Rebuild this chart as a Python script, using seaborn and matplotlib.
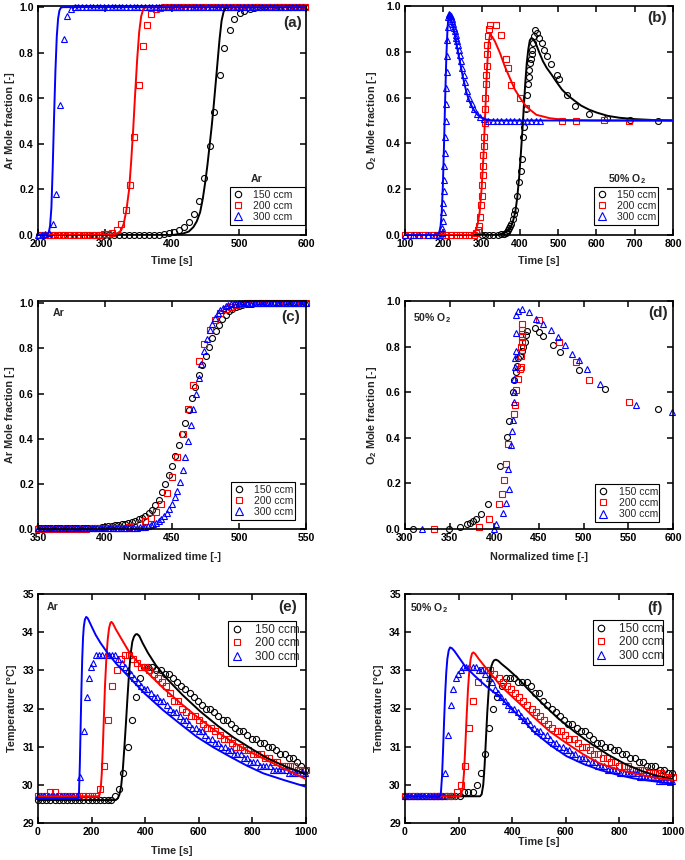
import matplotlib
matplotlib.use("Agg")
import matplotlib.pyplot as plt
import seaborn as sns
from matplotlib.lines import Line2D

# ---------------- (a) Ar breakthrough ----------------
a150_t = [201,208,216,223,231,238,246,253,261,268,276,283,291,298,306,313,321,328,336,343,351,358,366,373,381,
          388,396,403,411,418,426,433,441,448,456,463,471,478,486,493,501,508,516,523,
          531,538,546,553,561,568,576,583,591,598]
a150_v = [0,0,0,0,0,0,0,0,0,0,0,0,0,0,0,0,0,0,0,0,0,0,0,0,0,
          0.003,0.007,0.012,0.02,0.035,0.055,0.09,0.15,0.25,0.39,0.54,0.70,0.82,0.90,0.95,0.975,0.985,0.99,0.995,
          1,1,1,1,1,1,1,1,1,1]
a200_t = [203,209,216,222,229,235,241,248,254,260,267,273,280,286,292,
          299,305,311,318,324,331,338,344,350,356,363,369,376,382,
          388,395,401,407,414,420,427,433,439,446,452,459,465,471,478,484,491,497,503,510,516,523,529,535,542,548,555,561,567,574,580,587,593,599]
a200_v = [0,0,0,0,0,0,0,0,0,0,0,0,0,0,0,
          0.003,0.005,0.01,0.02,0.05,0.11,0.22,0.43,0.66,0.83,0.92,0.97,0.99,0.995,
          1,1,1,1,1,1,1,1,1,1,1,1,1,1,1,1,1,1,1,1,1,1,1,1,1,1,1,1,1,1,1,1,1,1]
a300_t = [200,205.5,211,216.5,222,227.5,233,238.5,244,249.5,
          255,260,266,271,277,282,288,293,299,304,310,315,321,326,332,337,343,348,354,359,
          365,370,376,381,387,392,398,403,409,414,420,425,431,436,442,447,453,458,464,469,
          475,480,486,491,497,502,508,513,519,524,530,535,541,546,552,557,563,568,574,579,585,590,596]
a300_v = [0,0,0.005,0.01,0.05,0.18,0.57,0.86,0.96,0.99,
          1,1,1,1,1,1,1,1,1,1,1,1,1,1,1,1,1,1,1,1,
          1,1,1,1,1,1,1,1,1,1,1,1,1,1,1,1,1,1,1,1,
          1,1,1,1,1,1,1,1,1,1,1,1,1,1,1,1,1,1,1,1,1,1,1]
a150_line_t = [200,400,415,425,432,437,442,446,450,453,456,459,462,465,468,471,474,477,480,484,600]
a150_line_v = [0,0,0.005,0.015,0.035,0.06,0.1,0.16,0.24,0.31,0.39,0.47,0.56,0.66,0.76,0.86,0.94,0.98,0.995,1,1]
a200_line_t = [200,300,318,324,328,332,336,339,342,345,348,351,354,357,361,600]
a200_line_v = [0,0,0.005,0.02,0.05,0.11,0.2,0.32,0.46,0.62,0.77,0.89,0.96,0.99,1,1]
a300_line_t = [200,213,216,218,220,222,224,226,228,230,232,234,237,600]
a300_line_v = [0,0,0.01,0.04,0.12,0.3,0.52,0.72,0.87,0.95,0.985,0.997,1,1]

# ---------------- (b) O2 breakthrough ----------------
b150_t = [300,310,320,330,342,352,358,363,366,369,372,375,378,381,384,387,392,398,403,406,409,412,415,418,421,
          423,425,427,429,431,433,435,437,440,444,450,457,464,470,482,497,503,523,545,581,628,688,761]
b150_v = [0,0,0,0,0,0.003,0.005,0.01,0.015,0.02,0.03,0.04,0.05,0.07,0.09,0.11,0.17,0.23,0.28,0.33,0.43,0.47,0.55,0.61,0.66,
          0.69,0.72,0.75,0.77,0.79,0.81,0.84,0.87,0.895,0.88,0.86,0.84,0.81,0.78,0.745,0.7,0.68,0.61,0.565,0.53,0.51,0.502,0.5]
b200_t = [100,112,124,136,148,160,172,184,196,208,220,232,244,256,268,280,
          286,290,294,296,298,300,302,303,304,305,306,307,308,309,310,311,312,313,314,315,
          317,319,322,337,350,363,370,377,400,416,509,546,621,686]
b200_v = [0,0,0,0,0,0,0,0,0,0,0,0,0,0,0,0,
          0.01,0.02,0.04,0.08,0.13,0.17,0.22,0.26,0.3,0.35,0.39,0.43,0.49,0.55,0.6,0.66,0.7,0.74,0.79,0.83,
          0.87,0.9,0.917,0.917,0.873,0.77,0.73,0.655,0.597,0.553,0.5,0.5,0.502,0.5]
b300_t = [100,120,137,159,178,188,
          196,197,198,199,200,201,202,203,204,205,206,207,208,209,210,211,212,213,
          214,216,218,220,222,224,226,228,230,232,234,236,238,240,243,246,250,254,258,263,268,274,280,287,
          296,307,318,330,341,352,363,374,386,397,408,419,430,442,453]
b300_v = [0,0,0,0,0,0,
          0.01,0.03,0.06,0.1,0.14,0.19,0.24,0.3,0.36,0.43,0.5,0.57,0.64,0.71,0.78,0.85,0.91,0.95,
          0.96,0.965,0.96,0.955,0.945,0.935,0.92,0.905,0.89,0.875,0.86,0.845,0.83,0.81,0.785,0.76,0.73,0.7,0.67,0.63,0.6,0.57,0.55,0.53,
          0.515,0.505,0.5,0.5,0.5,0.5,0.5,0.5,0.5,0.5,0.5,0.5,0.5,0.5,0.5]
b150_line_t = [100,340,355,365,375,382,388,393,398,402,406,410,414,418,422,426,430,435,442,450,
               460,470,483,495,510,525,540,560,580,600,630,660,700,750,800]
b150_line_v = [0,0,0.005,0.015,0.03,0.06,0.1,0.16,0.25,0.34,0.44,0.55,0.66,0.75,0.81,0.85,0.86,0.855,0.835,0.8,
               0.76,0.73,0.7,0.67,0.635,0.61,0.59,0.565,0.548,0.535,0.52,0.512,0.506,0.502,0.5]
b200_line_t = [100,270,278,285,290,295,300,305,310,314,318,322,328,335,348,361,374,387,400,417,
               443,478,520,600,800]
b200_line_v = [0,0,0.005,0.02,0.05,0.1,0.2,0.35,0.55,0.72,0.83,0.875,0.865,0.845,0.795,0.735,0.685,0.635,0.6,0.56,
               0.525,0.51,0.502,0.5,0.5]
b300_line_t = [100,180,186,190,193,196,199,202,205,208,211,213,216,220,225,230,236,243,250,256,
               261,268,278,287,296,310,330,800]
b300_line_v = [0,0,0.005,0.015,0.04,0.1,0.22,0.4,0.6,0.78,0.9,0.945,0.96,0.945,0.915,0.88,0.82,0.76,0.7,0.655,
               0.62,0.585,0.55,0.53,0.515,0.505,0.5,0.5]

# ---------------- (c) Ar vs normalized time ----------------
c150_t = [350,352.5,355,357.5,360,362.5,365,367.5,370,372.5,375,377.5,380,382.5,385,387.5,390,392.5,395,
          397.5,400,402.5,405,407.5,410,412.5,415,417.5,420,422.5,425,427.5,430,432.5,435,437.5,440,442.5,445,
          447.5,450,452.5,455,457.5,460,462.5,465,467.5,470,472.5,475,477.5,480,482.5,485,487.5,490,492.5,495,
          497.5,500,502.5,505,507.5,510,512.5,
          515,517.5,520,522.5,525,527.5,530,532.5,535,537.5,540,542.5,545,547.5,550]
c150_v = [0.003,0.003,0.003,0.003,0.003,0.003,0.003,0.003,0.003,0.003,0.004,0.004,0.004,0.004,0.004,0.005,0.005,0.005,0.005,
          0.007,0.01,0.012,0.014,0.016,0.018,0.021,0.024,0.028,0.032,0.037,0.043,0.05,0.058,0.07,0.085,0.105,0.13,0.165,0.2,
          0.24,0.28,0.325,0.37,0.42,0.47,0.525,0.58,0.63,0.68,0.725,0.765,0.805,0.845,0.875,0.905,0.93,0.95,0.965,0.975,
          0.983,0.988,0.992,0.995,0.997,0.998,0.999,
          1,1,1,1,1,1,1,1,1,1,1,1,1,1,1]
c200_t = [350,354,358,362,366,370,374,378,382,386,390,394,398,402,406,
          410,414,418,422,426,430,434,438,442,446,450,454,458,462,466,470,474,478,482,486,490,494,498,502,506,
          510,514,518,522,526,530,534,538,542,546,550]
c200_v = [0.002,0.002,0.002,0.002,0.002,0.002,0.002,0.002,0.002,0.002,0.003,0.003,0.003,0.003,0.003,
          0.004,0.006,0.009,0.014,0.022,0.035,0.05,0.075,0.11,0.16,0.23,0.32,0.42,0.53,0.64,0.745,0.82,0.88,0.925,0.955,
          0.975,0.985,0.993,0.997,0.999,
          1,1,1,1,1,1,1,1,1,1,1]
c300_t = [350,352,354,356,358,360,362,364,366,368,370,372,374,376,378,380,382,384,386,388,390,392,394,396,398,
          400,402,404,406,408,410,412,414,416,418,420,
          422,424,426,428,430,432,434,436,438,440,442,444,446,448,450,452,454,456,458,460,462,464,466,468,470,
          472,474,476,478,480,482,484,486,488,490,492,494,496,498,500,
          502,504,506,508,510,512,514,516,518,520,522,524,526,528,530,532,534,536,538,540,542,544,546,548,550]
c300_v = [0.003,0.003,0.003,0.003,0.003,0.003,0.003,0.003,0.003,0.003,0.003,0.003,0.003,0.003,0.003,0.003,0.003,0.003,
          0.003,0.003,0.003,0.003,0.003,0.003,0.003,0.003,0.003,0.003,0.003,0.003,0.003,0.003,0.003,0.003,0.003,0.003,
          0.005,0.006,0.007,0.009,0.011,0.014,0.017,0.022,0.028,0.036,0.046,0.057,0.07,0.09,0.11,0.14,0.17,0.21,0.26,0.32,
          0.39,0.46,0.53,0.6,0.67,0.73,0.79,0.84,0.88,0.91,0.935,0.955,0.97,0.98,0.987,0.992,0.995,0.997,0.998,0.999,
          1,1,1,1,1,1,1,1,1,1,1,1,1,1,1,1,1,1,1,1,1,1,1,1,1]

# ---------------- (d) O2 vs normalized time ----------------
d150_t = [309,349,362,369,373,376,379,385,393,406,414,416.5,421,422.5,424,425.5,427,428.5,430.7,432.2,
          434,435.2,436.3,445,449.8,454.3,465.2,473.4,494.8,524,583.1]
d150_v = [0,0,0.01,0.02,0.028,0.034,0.042,0.064,0.11,0.278,0.402,0.472,0.6,0.655,0.69,0.715,0.75,0.76,0.78,0.8,
          0.82,0.85,0.87,0.88,0.865,0.845,0.805,0.776,0.697,0.613,0.528]
d200_t = [332.6,382.4,394.4,405.2,409,410.5,413.1,415.7,422.1,423.2,424.7,426.6,428.8,429.6,430,
          430.3,430.5,430.8,431,431,431.2,449.8,472.7,491,505.6,550.9]
d200_v = [0,0.01,0.042,0.108,0.153,0.215,0.285,0.371,0.506,0.545,0.608,0.658,0.7,0.71,0.76,
          0.8,0.82,0.84,0.855,0.875,0.9,0.917,0.818,0.733,0.652,0.557]
d300_t = [318.7,399.3,402.2,409.7,413.1,416.5,415,419.1,419.4,420.6,421.7,422.1,422.1,423.2,423.6,424,424,424.7,
          426.2,431.1,439,446.4,454.7,462.9,470.8,479.4,486.5,495.1,503.4,518.7,558.8,598.9]
d300_v = [0,0,0.02,0.069,0.113,0.175,0.263,0.37,0.43,0.48,0.555,0.6,0.66,0.71,0.75,0.78,0.86,0.94,
          0.955,0.963,0.95,0.92,0.9,0.873,0.84,0.808,0.769,0.74,0.7,0.637,0.546,0.513]

# ---------------- (e) Temperature, Ar ----------------
e150_t = [0,15,31,46,62,77,92,108,123,139,154,169,185,200,216,231,246,262,274,
          289,304,319,334,350,365,381,396,412,427,442,458,473,489,504,519,535,550,566,581,
          596,612,627,643,658,673,689,704,720,735,750,766,781,797,812,827,843,858,874,889,904,920,935,951,966,981,997]
e150_v = [29.6,29.6,29.6,29.6,29.6,29.6,29.6,29.6,29.6,29.6,29.6,29.6,29.6,29.6,29.6,29.6,29.6,29.6,29.6,
          29.7,29.9,30.3,31.0,31.7,32.3,32.8,33.1,33.1,33.1,33.0,33.0,32.9,32.9,32.8,32.7,32.6,32.5,32.4,32.3,
          32.2,32.1,32.0,32.0,31.9,31.8,31.7,31.7,31.6,31.5,31.4,31.4,31.3,31.2,31.2,31.1,31.1,31.0,31.0,30.9,
          30.8,30.8,30.7,30.7,30.6,30.5,30.4]
e200_t = [0,15,31,46,62,77,92,108,123,139,154,169,185,200,216,
          231,246,262,277,293,308,323,339,354,370,385,400,416,431,447,462,477,493,508,524,
          539,554,570,585,601,616,631,647,662,678,693,708,724,739,755,770,785,801,816,832,
          847,862,878,893,909,924,939,955,970,986,1000]
e200_v = [29.7,29.7,29.7,29.8,29.8,29.7,29.7,29.7,29.7,29.7,29.7,29.7,29.7,29.7,29.7,
          29.9,30.5,31.7,32.6,33.0,33.3,33.4,33.4,33.3,33.2,33.1,33.1,33.0,32.9,32.8,32.7,32.6,32.4,32.2,32.2,
          32.0,31.9,31.8,31.8,31.7,31.6,31.5,31.5,31.4,31.3,31.2,31.2,31.1,31.0,31.0,30.9,30.9,30.8,30.8,30.8,
          30.7,30.7,30.6,30.6,30.5,30.5,30.5,30.5,30.4,30.4,30.4]
e300_t = [0,12,24,36,48,60,72,84,96,108,120,132,144,
          156,170,184,190,198,206,216,228,240,252,264,276,288,300,312,324,336,348,360,372,
          384,396,408,420,432,444,456,468,480,492,504,516,528,540,552,564,576,588,600,612,
          624,636,648,660,672,684,696,708,720,732,744,756,768,780,792,804,816,828,840,852,
          864,876,888,900,912,924,936,948,960,972,984,996]
e300_v = [29.7,29.7,29.7,29.7,29.7,29.7,29.7,29.7,29.7,29.7,29.7,29.7,29.7,
          30.2,31.4,32.3,32.8,33.1,33.2,33.4,33.4,33.4,33.4,33.4,33.4,33.4,33.3,33.2,33.1,33.0,32.9,32.8,32.7,
          32.6,32.5,32.5,32.4,32.3,32.3,32.2,32.2,32.1,32.0,31.9,31.9,31.8,31.7,31.7,31.6,31.5,31.5,31.4,31.4,
          31.3,31.2,31.2,31.1,31.1,31.0,31.0,30.9,30.9,30.8,30.8,30.8,30.7,30.7,30.6,30.6,30.6,30.5,30.5,30.5,
          30.5,30.4,30.4,30.4,30.4,30.4,30.3,30.3,30.3,30.3,30.3,30.3]
e150_line_t = [0,290,298,304,310,316,322,328,334,340,346,352,358,364,370,378,390,410,440,481,
               540,606,670,730,800,855,930,1000]
e150_line_v = [29.6,29.6,29.65,29.75,29.95,30.35,30.95,31.6,32.3,32.95,33.45,33.75,33.88,33.94,33.95,33.9,33.72,33.46,33.13,32.78,
               32.35,31.92,31.55,31.24,30.93,30.7,30.46,30.28]
e200_line_t = [0,225,230,234,238,242,246,250,255,260,265,270,274,280,290,305,320,343,400,468,
               530,592,655,716,780,841,920,1000]
e200_line_v = [29.7,29.7,29.75,29.9,30.3,31.0,31.8,32.6,33.3,33.8,34.1,34.24,34.27,34.22,34.08,33.9,33.72,33.45,33.0,32.53,
               32.15,31.79,31.45,31.17,30.9,30.69,30.42,30.15]
e300_line_t = [0,150,153,156,159,162,165,168,171,175,180,185,190,200,215,233,260,295,343,400,
               468,530,592,655,716,780,841,920,1000]
e300_line_v = [29.65,29.65,29.8,30.5,31.5,32.5,33.3,33.85,34.15,34.33,34.4,34.37,34.3,34.15,33.93,33.72,33.45,33.15,32.8,32.38,
               31.95,31.6,31.26,30.98,30.74,30.5,30.3,30.12,29.95]

# ---------------- (f) Temperature, 50% O2 ----------------
f150_t = [0,15,31,46,62,77,93,108,124,139,155,170,186,204,220,236,252,
          268,284,299,315,330,345,361,376,392,407,423,438,454,469,485,500,516,531,547,562,
          578,593,609,624,640,655,671,686,702,717,733,748,764,779,795,810,826,841,857,872,
          888,903,919,934,950,965,981,996]
f150_v = [29.7,29.7,29.7,29.7,29.7,29.7,29.7,29.7,29.7,29.7,29.7,29.7,29.7,29.7,29.8,29.8,29.8,
          30.0,30.3,30.8,31.5,32.0,32.3,32.6,32.8,32.8,32.8,32.7,32.7,32.7,32.6,32.4,32.4,32.2,32.1,32.0,31.9,
          31.8,31.7,31.6,31.6,31.5,31.4,31.4,31.3,31.2,31.1,31.1,31.0,31.0,30.9,30.9,30.8,30.8,30.7,30.7,30.6,
          30.6,30.5,30.5,30.5,30.4,30.4,30.3,30.3]
f200_t = [0,16,32,48,64,80,96,112,128,144,160,177,
          193,208,224,240,255,271,286,301,317,332,349,365,380,396,411,426,442,457,473,488,
          504,519,535,550,567,582,598,613,629,644,660,675,691,706,722,737,753,768,785,800,
          816,831,847,862,878,893,909,924,940,955,971,986,1000]
f200_v = [29.7,29.7,29.7,29.7,29.7,29.7,29.7,29.7,29.7,29.7,29.7,29.7,
          29.8,30.0,30.5,31.5,32.2,32.7,33.0,33.0,33.0,32.9,32.8,32.7,32.6,32.5,32.4,32.3,32.2,32.1,32.0,31.9,
          31.8,31.7,31.6,31.5,31.4,31.4,31.3,31.2,31.2,31.1,31.0,31.0,30.9,30.8,30.8,30.7,30.7,30.6,30.6,30.5,
          30.5,30.5,30.4,30.4,30.4,30.4,30.3,30.3,30.3,30.3,30.2,30.2,30.2]
f300_t = [0,12,24,36,48,60,72,84,96,108,120,132,141,
          150,162,171,180,189,199,208,218,228,240,252,264,276,288,300,312,324,336,348,360,
          372,384,396,408,420,432,444,456,468,480,492,504,516,528,540,552,564,576,588,600,
          612,624,636,648,660,672,684,696,708,720,732,744,756,768,780,792,804,816,828,840,
          852,864,876,888,900,912,924,936,948,960,972,984,996]
f300_v = [29.7,29.7,29.7,29.7,29.7,29.7,29.7,29.7,29.7,29.7,29.7,29.7,29.7,
          30.3,31.3,32.1,32.5,32.8,32.9,33.0,33.1,33.1,33.1,33.1,33.1,33.0,33.0,32.9,32.8,32.7,32.5,32.4,32.3,
          32.2,32.1,32.0,32.0,31.9,31.8,31.7,31.7,31.6,31.5,31.4,31.4,31.3,31.3,31.2,31.1,31.1,31.0,31.0,30.9,
          30.9,30.8,30.8,30.7,30.7,30.7,30.6,30.6,30.6,30.5,30.5,30.5,30.4,30.4,30.4,30.4,30.3,30.3,30.3,30.3,
          30.3,30.3,30.2,30.2,30.2,30.2,30.2,30.2,30.1,30.1,30.1,30.1,30.1]
f150_line_t = [0,280,286,292,297,302,307,312,317,322,327,332,339,348,360,386,420,460,510,570,
               635,700,760,820,884,940,1000]
f150_line_v = [29.7,29.7,29.75,30.0,30.5,31.2,31.9,32.45,32.85,33.1,33.2,33.26,33.28,33.25,33.17,33.02,32.8,32.5,32.15,31.75,
               31.38,31.05,30.78,30.55,30.36,30.24,30.15]
f200_line_t = [0,205,210,215,220,225,230,235,240,245,250,255,262,275,300,330,354,386,440,479,
               540,603,665,727,790,852,920,1000]
f200_line_v = [29.7,29.7,29.75,29.9,30.3,31.0,31.8,32.5,33.0,33.3,33.44,33.47,33.43,33.3,33.08,32.83,32.62,32.4,32.05,31.78,
               31.4,31.09,30.8,30.56,30.41,30.3,30.2,30.12]
f300_line_t = [0,130,134,138,142,146,150,154,158,163,168,175,185,200,225,261,300,354,386,440,
               479,540,603,665,727,790,852,920,1000]
f300_line_v = [29.7,29.7,29.8,30.2,30.9,31.7,32.4,32.95,33.3,33.52,33.6,33.58,33.5,33.35,33.1,32.85,32.6,32.3,32.07,31.7,
               31.4,31.05,30.75,30.55,30.39,30.27,30.17,30.1,30.03]

series_labels = ["150 ccm", "200 ccm", "300 ccm"]

# ---------------- style ----------------
sns.set_theme(style="ticks")
plt.rcParams.update({
    "font.family": ["Liberation Sans", "DejaVu Sans"],
    "font.weight": "bold",
    "axes.labelweight": "bold",
    "mathtext.fontset": "custom",
    "mathtext.rm": "Liberation Sans:bold",
    "mathtext.it": "Liberation Sans:bold",
    "mathtext.bf": "Liberation Sans:bold",
    "mathtext.default": "rm",
    "axes.linewidth": 1.2,
    "axes.edgecolor": "black",
})

K, R, B = "#000000", "#ff0000", "#0000ff"
MK = [("o", K), ("s", R), ("^", B)]
TICK_FS = 7.6
LAB_FS = 7.8

fig = plt.figure(figsize=(6.85, 8.6), dpi=100)
W, H = 685.0, 860.0
def make_ax(x0, x1, ytop, ybot):
    return fig.add_axes([x0 / W, 1 - ybot / H, (x1 - x0) / W, (ybot - ytop) / H])

axa = make_ax(38, 306, 6, 235)
axb = make_ax(405, 673, 6, 235)
axc = make_ax(38, 306, 301, 529)
axd = make_ax(405, 673, 301, 529)
axe = make_ax(38, 306, 594, 823)
axf = make_ax(405, 673, 594, 823)

def msize(m, big=False):
    if big:
        return 4.4 if m != "^" else 4.9
    return 4.3 if m != "^" else 4.9

def markers(ax, t, v, marker, color, ms):
    sns.lineplot(x=t, y=v, ax=ax, estimator=None, sort=False, linestyle="none",
                 marker=marker, markersize=ms, markerfacecolor="none",
                 markeredgecolor=color, markeredgewidth=0.8, color=color, clip_on=False, zorder=2)

def curve(ax, t, v, color):
    sns.lineplot(x=t, y=v, ax=ax, estimator=None, sort=False, color=color,
                 linewidth=1.4, zorder=3)

def style(ax, xlim, xticks, ylim, yticks, xlabel, ylabel, xlab_y, ylab_x):
    ax.set_xlim(*xlim)
    ax.set_ylim(*ylim)
    ax.set_xticks(xticks)
    ax.set_yticks(yticks)
    ax.tick_params(axis="both", which="major", direction="in", top=True, right=True,
                   length=4, width=1.1, labelsize=TICK_FS, pad=3, colors="black")
    for lab in ax.get_xticklabels() + ax.get_yticklabels():
        lab.set_fontweight("bold")
    ax.set_xlabel(xlabel, fontsize=LAB_FS, fontweight="bold")
    ax.set_ylabel(ylabel, fontsize=LAB_FS, fontweight="bold")
    ax.xaxis.set_label_coords(0.5, xlab_y)
    ax.yaxis.set_label_coords(ylab_x, 0.5)
    for s in ax.spines.values():
        s.set_linewidth(1.2)
        s.set_color("black")

def legend(ax, x0, w, ytop, fs, big=False):
    handles = [Line2D([], [], linestyle="none", marker=m, markersize=msize(m, big) + 0.3,
                      markerfacecolor="none", markeredgecolor=c, markeredgewidth=0.8) for m, c in MK]
    L = ax.legend(handles, series_labels, loc="upper left", bbox_to_anchor=(x0, 0, w, ytop),
                  mode="expand", frameon=True, fancybox=False, edgecolor="black", framealpha=1,
                  prop={"family": "Liberation Sans", "weight": "normal", "size": fs},
                  handlelength=1.0, handletextpad=1.0, labelspacing=0.12, borderpad=0.25,
                  borderaxespad=0)
    L.get_frame().set_linewidth(0.8)

def tag(ax, x, y, s):
    ax.text(x, y, s, transform=ax.transAxes, ha="right", va="center", fontsize=11, fontweight="bold")

def note(ax, x, y, s, ha="left"):
    ax.text(x, y, s, transform=ax.transAxes, ha=ha, va="center", fontsize=7.6, fontweight="bold")

# ---- (a)
for (m, c), t, v in zip(MK, [a150_t, a200_t, a300_t], [a150_v, a200_v, a300_v]):
    markers(axa, t, v, m, c, msize(m))
for c, t, v in zip([K, R, B], [a150_line_t, a200_line_t, a300_line_t], [a150_line_v, a200_line_v, a300_line_v]):
    curve(axa, t, v, c)
style(axa, (200, 600), [200, 300, 400, 500, 600], (0, 1.005), [0, 0.2, 0.4, 0.6, 0.8, 1.0],
      "Time [s]", "Ar Mole fraction [-]", -0.09, -0.086)
legend(axa, 0.716, 0.28, 0.21, 7.5)
note(axa, 0.817, 0.245, "Ar", ha="center")
tag(axa, 0.985, 0.926, "(a)")

# ---- (b)
for (m, c), t, v in zip(MK, [b150_t, b200_t, b300_t], [b150_v, b200_v, b300_v]):
    markers(axb, t, v, m, c, msize(m))
for c, t, v in zip([K, R, B], [b150_line_t, b200_line_t, b300_line_t], [b150_line_v, b200_line_v, b300_line_v]):
    curve(axb, t, v, c)
style(axb, (100, 800), [100, 200, 300, 400, 500, 600, 700, 800], (0, 1.0), [0, 0.2, 0.4, 0.6, 0.8, 1.0],
      "Time [s]", r"O$_2$ Mole fraction [-]", -0.09, -0.097)
legend(axb, 0.705, 0.239, 0.21, 7.5)
note(axb, 0.828, 0.245, r"50% O$_2$", ha="center")
tag(axb, 0.978, 0.948, "(b)")

# ---- (c)
for (m, c), t, v in zip(MK, [c150_t, c200_t, c300_t], [c150_v, c200_v, c300_v]):
    markers(axc, t, v, m, c, msize(m))
style(axc, (350, 550), [350, 400, 450, 500, 550], (0, 1.01), [0, 0.2, 0.4, 0.6, 0.8, 1.0],
      "Normalized time [-]", "Ar Mole fraction [-]", -0.1, -0.086)
legend(axc, 0.72, 0.24, 0.206, 7.5)
note(axc, 0.056, 0.947, "Ar")
tag(axc, 0.978, 0.93, "(c)")

# ---- (d)
for (m, c), t, v in zip(MK, [d150_t, d200_t, d300_t], [d150_v, d200_v, d300_v]):
    markers(axd, t, v, m, c, msize(m))
style(axd, (300, 600), [300, 350, 400, 450, 500, 550, 600], (0, 1.0), [0, 0.2, 0.4, 0.6, 0.8, 1.0],
      "Normalized time [-]", r"O$_2$ Mole fraction [-]", -0.1, -0.097)
legend(axd, 0.71, 0.238, 0.197, 7.5)
note(axd, 0.03, 0.925, r"50% O$_2$")
tag(axd, 0.98, 0.947, "(d)")

# ---- (e)
for (m, c), t, v in zip(MK, [e150_t, e200_t, e300_t], [e150_v, e200_v, e300_v]):
    markers(axe, t, v, m, c, msize(m, True))
for c, t, v in zip([K, R, B], [e150_line_t, e200_line_t, e300_line_t], [e150_line_v, e200_line_v, e300_line_v]):
    curve(axe, t, v, c)
style(axe, (0, 1000), [0, 200, 400, 600, 800, 1000], (29, 35), [29, 30, 31, 32, 33, 34, 35],
      "Time [s]", "Temperature [°C]", -0.1, -0.078)
legend(axe, 0.709, 0.254, 0.882, 8.5, True)
note(axe, 0.032, 0.943, "Ar")
tag(axe, 0.966, 0.943, "(e)")

# ---- (f)
for (m, c), t, v in zip(MK, [f150_t, f200_t, f300_t], [f150_v, f200_v, f300_v]):
    markers(axf, t, v, m, c, msize(m, True))
for c, t, v in zip([K, R, B], [f150_line_t, f200_line_t, f300_line_t], [f150_line_v, f200_line_v, f300_line_v]):
    curve(axf, t, v, c)
style(axf, (0, 1000), [0, 200, 400, 600, 800, 1000], (29, 35), [29, 30, 31, 32, 33, 34, 35],
      "Time [s]", "Temperature [°C]", -0.062, -0.078)
legend(axf, 0.70, 0.263, 0.886, 8.5, True)
note(axf, 0.02, 0.939, r"50% O$_2$")
tag(axf, 0.96, 0.939, "(f)")

fig.savefig("out.png", dpi=100, facecolor="white")
